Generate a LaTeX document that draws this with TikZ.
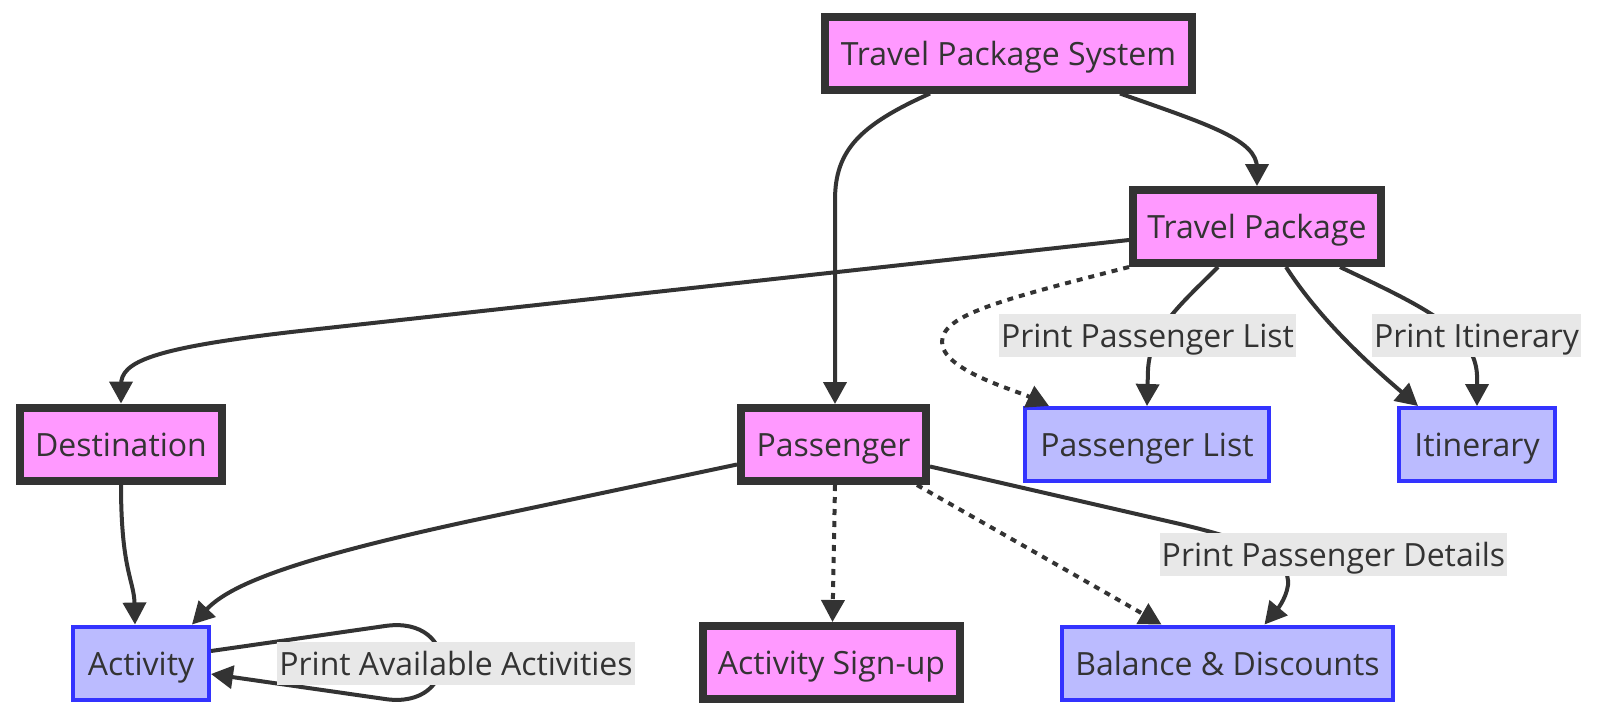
\documentclass[tikz,border=0pt]{standalone}
\usepackage{fontspec}
\setmainfont{Open Sans}
\usetikzlibrary{arrows.meta,calc}
\definecolor{pinkfill}{HTML}{FF99FF}
\definecolor{bluefill}{HTML}{BBBBFF}
\definecolor{bluestroke}{HTML}{3333FF}
\definecolor{dark}{HTML}{333333}
\definecolor{lblbg}{HTML}{E8E8E8}
\begin{document}
\begin{tikzpicture}[x=1pt,y=-1pt,
  every node/.style={font=\fontsize{32}{38}\selectfont, text=dark, inner sep=0pt, text height=30pt, text depth=6pt},
  pinkbox/.style={draw=dark, fill=pinkfill, line width=8pt, minimum height=73pt},
  bluebox/.style={draw=bluestroke, fill=bluefill, line width=4pt, minimum height=73pt},
  edge/.style={draw=dark, line width=4pt, -{Triangle[length=22pt,width=23pt]}},
  dotedge/.style={edge, dash pattern=on 6pt off 6pt},
  lbl/.style={fill=lblbg, minimum height=43pt, inner xsep=2pt},
]
\useasboundingbox (0,0) rectangle (1600,716);

% nodes
\node[pinkbox, minimum width=367pt] (tps) at (1008.5,53) {Travel Package System};
\node[pinkbox, minimum width=248pt] (tp) at (1257,226.5) {Travel Package};
\node[pinkbox, minimum width=202pt] (dest) at (121,444) {Destination};
\node[pinkbox, minimum width=185pt] (pass) at (833.5,444.5) {Passenger};
\node[bluebox, minimum width=244pt] (plist) at (1147,444.5) {Passenger List};
\node[bluebox, minimum width=156pt] (itin) at (1477,444.5) {Itinerary};
\node[bluebox, minimum width=136pt] (act) at (141,663) {Activity};
\node[pinkbox, minimum width=257pt] (signup) at (831.5,662.5) {Activity Sign-up};
\node[bluebox, minimum width=331pt] (bal) at (1227.5,663) {Balance \& Discounts};

% connectors
\draw[edge] ([xshift=-78.5pt]tps.south) .. controls (860,125) and (835,150) .. (835,200) -- ([xshift=1.5pt]pass.north);
\draw[edge] ([xshift=111.5pt]tps.south) .. controls (1210,125) and (1257,140) .. (1257,168) -- (tp.north);
\draw[edge] ([yshift=-13.5pt]tp.west) -- (300,331) .. controls (150,348) and (121,362) .. (121,385) -- (dest.north);
\draw[dotedge] (tp.south west) .. controls (1000,300) and (942,315) .. (942,342) .. controls (942,370) and (1015,390) .. ([xshift=-98pt]plist.north);
\draw[edge] ([xshift=-39pt]tp.south) .. controls (1180,305) and (1150,330) .. (1148,370) -- (plist.north);
\draw[edge] ([xshift=29pt]tp.south) .. controls (1320,320) and (1370,365) .. ([xshift=-59pt]itin.north);
\draw[edge] ([xshift=83pt]tp.south) .. controls (1420,305) and (1475,330) .. (1477,375) -- (itin.north);
\draw[edge] (dest.south) .. controls (121,570) and (134,580) .. ([xshift=-6pt]act.north);
\draw[edge] ([yshift=-20pt]pass.west) -- (470,521) .. controls (290,560) and (230,585) .. ([xshift=51pt]act.north);
\draw[dotedge] ([xshift=1.5pt]pass.south) -- ([xshift=1pt]signup.north);
\draw[dotedge] ([xshift=-13pt]pass.south east) -- ([xshift=-66pt]bal.north);
\draw[edge] ([yshift=-22pt]pass.east) -- (1180,524) .. controls (1260,543) and (1290,560) .. (1288,585) .. controls (1286,600) and (1275,612) .. ([xshift=37pt]bal.north);
\draw[edge] ([yshift=12pt]act.east) -- (385,626) .. controls (460,615) and (460,710) .. (385,699) -- ([yshift=-11pt]act.east);

% labels
\node[lbl] (l1) at (1147.5,335.5) {Print Passenger List};
\node[lbl] (l2) at (1476.5,335.5) {Print Itinerary};
\node[lbl] (l3) at (1333.5,554) {Print Passenger Details};
\node[lbl] (l4) at (456,663) {Print Available Activities};
\end{tikzpicture}
\end{document}
